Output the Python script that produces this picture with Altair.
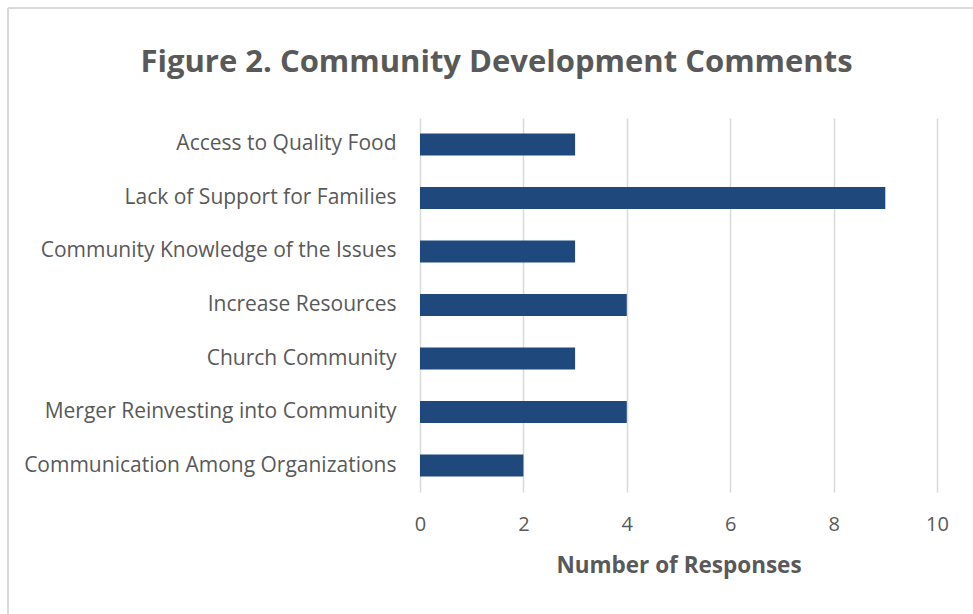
import altair as alt
import pandas as pd

categories = [
    "Access to Quality Food",
    "Lack of Support for Families",
    "Community Knowledge of the Issues",
    "Increase Resources",
    "Church Community",
    "Merger Reinvesting into Community",
    "Communication Among Organizations",
]
values = [3, 9, 3, 4, 3, 4, 2]

df = pd.DataFrame({"category": categories, "responses": values})

FONT = "Open Sans"
GRAY = "#595959"

bars = alt.Chart(df).mark_bar(color="#1F497D").encode(
    x=alt.X(
        "responses:Q",
        scale=alt.Scale(domain=[0, 10], nice=False),
        axis=alt.Axis(
            values=[0, 2, 4, 6, 8, 10],
            title="Number of Responses",
            titleFont=FONT,
            titleFontSize=22.5,
            titleFontWeight="bold",
            titleColor=GRAY,
            titlePadding=20,
            labelFont=FONT,
            labelFontSize=20,
            labelColor=GRAY,
            labelPadding=22,
            labelFlush=False,
            ticks=False,
            domain=False,
            grid=True,
            gridColor="#D9D9D9",
            gridWidth=1.5,
        ),
    ),
    y=alt.Y(
        "category:N",
        sort=categories,
        scale=alt.Scale(paddingInner=0.59, paddingOuter=0.29),
        axis=alt.Axis(
            title=None,
            labelFont=FONT,
            labelFontSize=21,
            labelColor=GRAY,
            labelPadding=24,
            ticks=False,
            domain=False,
            grid=False,
            labelLimit=500,
        ),
    ),
)

BORDER = "#D9D9D9"
border = alt.Chart(df).mark_rule(color=BORDER, strokeWidth=2).encode(
    x=alt.value(-412), x2=alt.value(-412), y=alt.value(-110), y2=alt.value(600)
)
border_top = alt.Chart(df).mark_rule(color=BORDER, strokeWidth=2).encode(
    x=alt.value(-412), x2=alt.value(600), y=alt.value(-110), y2=alt.value(-110)
)

chart = (
    alt.layer(border, border_top, bars)
    .properties(
        width=517,
        height=374,
        background="white",
        autosize=alt.AutoSizeParams(type="none"),
        padding={"left": 420, "top": 118, "right": 36, "bottom": 122},
        title=alt.TitleParams(
            "Figure 2. Community Development Comments",
            font=FONT,
            fontSize=31,
            fontWeight="bold",
            color=GRAY,
            dx=-182,
            offset=-72,
            anchor="middle",
            frame="group",
        ),
    )
    .configure_view(strokeWidth=0, stroke="transparent")
)

chart.save("out.html", embed_options={"renderer": "svg", "actions": False})
